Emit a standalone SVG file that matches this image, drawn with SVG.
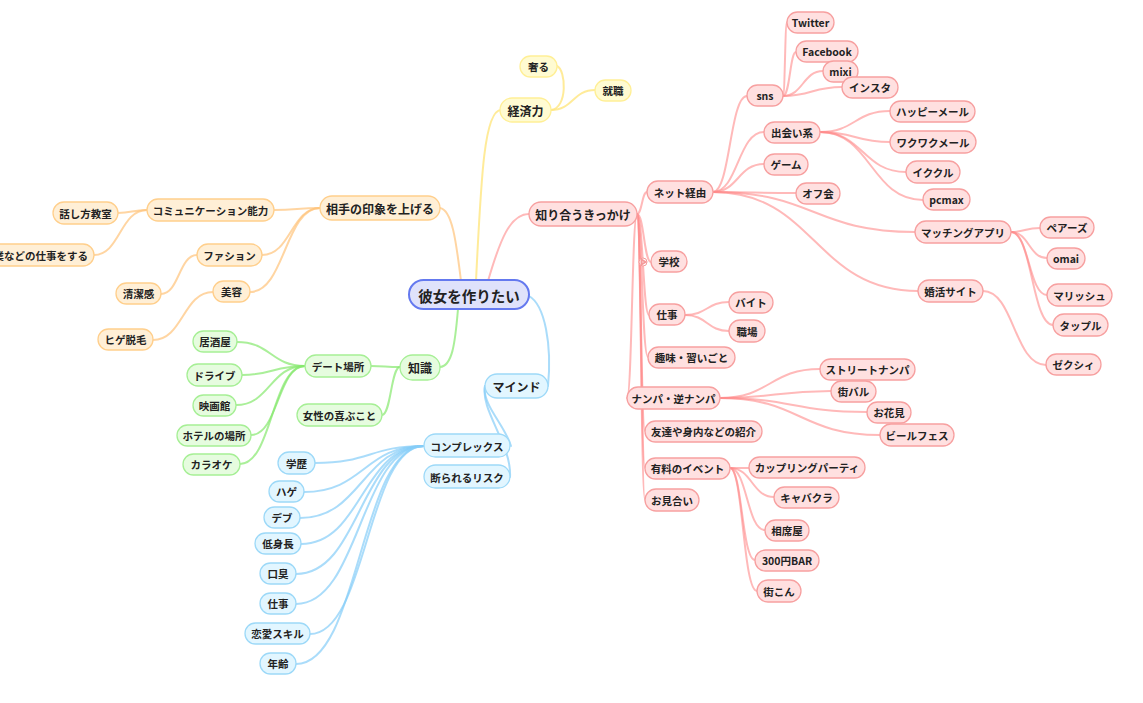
<svg xmlns="http://www.w3.org/2000/svg" width="1143" height="703" viewBox="0 0 1143 703">
<style>
text{font-family:"Noto Sans CJK JP","Noto Sans",sans-serif;font-weight:bold;fill:#222;text-anchor:middle;dominant-baseline:central;font-size:10.5px}
rect{stroke-width:1.3}
.c path{fill:none;stroke-width:2;stroke-linecap:round}
.cr path{stroke:#ff8a8a;stroke-opacity:.6}
.co path{stroke:#ffc37a;stroke-opacity:.7}
.cy path{stroke:#ffe680;stroke-opacity:.8}
.cg path{stroke:#86e86e;stroke-opacity:.7}
.cb path{stroke:#86cdf8;stroke-opacity:.7}
.r rect{fill:#ffe0e0;stroke:#f7a0a0}
.o rect{fill:#ffefd6;stroke:#ffcf8c}
.y rect{fill:#fffbd2;stroke:#ffef96}
.g rect{fill:#e6fcdf;stroke:#a6ef95}
.b rect{fill:#e2f6ff;stroke:#9dd9f8}
.l1 text{font-size:12px}
.root rect{fill:#dfe2fb;stroke:#6479ef;stroke-width:2}
.root text{font-size:14.5px}
</style>
<rect width="1143" height="703" fill="#fff"/>
<g id="connectors" class="c">
<g class="co">
<path d="M461 281 C456 240 452 210 440 208"/>
<path d="M320 208 C297 208 297 210 274 210"/>
<path d="M320 208 C291 208 291 255 262 255"/>
<path d="M320 208 C285 208 285 292 250 292"/>
<path d="M147 210 C132 210 132 213 118 213"/>
<path d="M147 210 C120 210 120 255 94 255"/>
<path d="M197 255 C179 255 179 294 161 294"/>
<path d="M213 292 C183 292 183 340 153 340"/>
</g>
<g class="cy">
<path d="M476 281 C481 180 484 110 501 110"/>
<path d="M551 110 C568 108 566 70 557 66"/>
<path d="M551 110 C573 110 573 90 595 90"/>
</g>
<g class="cg">
<path d="M458 309 C455 345 452 366 440 367"/>
<path d="M400 367 C385 367 385 366 371 366"/>
<path d="M400 367 C391 367 391 415 382 415"/>
<path d="M305 366 C271 366 271 342 237 342"/>
<path d="M305 366 C273 366 273 375 242 375"/>
<path d="M305 366 C270 366 270 405 236 405"/>
<path d="M305 366 C278 366 278 435 251 435"/>
<path d="M305 366 C272 366 272 464 240 464"/>
</g>
<g class="cb">
<path d="M529 296 C545 305 552 345 548 386"/>
<path d="M485 386 C482 405 505 425 511 446"/>
<path d="M485 386 C480 410 512 445 510 477"/>
<path d="M424 446 C370 446 370 463 315 463"/>
<path d="M424 446 C364 446 364 492 304 492"/>
<path d="M424 446 C362 446 362 518 300 518"/>
<path d="M424 446 C362 446 362 544 301 544"/>
<path d="M424 446 C360 446 360 574 296 574"/>
<path d="M424 446 C360 446 360 604 296 604"/>
<path d="M424 446 C367 446 367 634 310 634"/>
<path d="M424 446 C360 446 360 664 296 664"/>
</g>
<g class="cr">
<path d="M488 281 C500 240 510 214 529 214"/>
<path d="M637 214 C642 214 642 192 647 192"/>
<path d="M637 214 C644 214 644 262 651 262"/>
<path d="M637 214 C643 214 643 315 649 315"/>
<path d="M637 214 C642 214 642 357 648 357"/>
<path d="M637 214 C632 214 632 398 627 398"/>
<path d="M637 214 C641 214 641 431 645 431"/>
<path d="M637 214 C641 214 641 468 645 468"/>
<path d="M637 214 C641 214 641 500 645 500"/>
<path d="M713 192 C730 192 730 96 747 96"/>
<path d="M713 192 C738 192 738 132 764 132"/>
<path d="M713 192 C738 192 738 164 764 164"/>
<path d="M713 192 C754 192 754 193 796 193"/>
<path d="M713 192 C814 192 814 232 915 232"/>
<path d="M713 192 C815 192 815 291 918 291"/>
<path d="M783 96 C785 96 785 22 787 22"/>
<path d="M783 96 C790 96 790 52 796 52"/>
<path d="M783 96 C803 96 803 71 823 71"/>
<path d="M783 96 C812 96 812 87 842 87"/>
<path d="M820 132 C855 132 855 111 890 111"/>
<path d="M820 132 C855 132 855 142 890 142"/>
<path d="M820 132 C863 132 863 172 906 172"/>
<path d="M820 132 C871 132 871 200 923 200"/>
<path d="M1011 232 C1025 232 1025 228 1040 228"/>
<path d="M1011 232 C1029 232 1029 258 1047 258"/>
<path d="M1011 232 C1029 232 1029 295 1047 295"/>
<path d="M1011 232 C1032 232 1032 325 1053 325"/>
<path d="M983 291 C1014 291 1014 365 1046 365"/>
<path d="M685 315 C707 315 707 302 729 302"/>
<path d="M685 315 C707 315 707 331 729 331"/>
<path d="M720 398 C770 398 770 369 820 369"/>
<path d="M720 398 C775 398 775 391 831 391"/>
<path d="M720 398 C793 398 793 412 867 412"/>
<path d="M720 398 C800 398 800 435 880 435"/>
<path d="M730 468 C740 468 740 468 749 468"/>
<path d="M730 468 C752 468 752 497 774 497"/>
<path d="M730 468 C747 468 747 530 765 530"/>
<path d="M730 468 C742 468 742 560 755 560"/>
<path d="M730 468 C743 468 743 591 757 591"/>
</g>
<g id="collapse-indicator">
<circle cx="643" cy="262" r="4" fill="#fff" stroke="#f59a9a" stroke-width="1"/>
<path d="M641.5 259.5 L645.5 262 L641.5 264.5 Z" fill="none" stroke="#f59a9a" stroke-width="0.8"/>
</g>
</g>
<g id="root" class="root"><rect x="409" y="280" width="120" height="29" rx="14.5"/><text x="469" y="295">彼女を作りたい</text></g>
<g id="n-keizai" class="y l1"><rect x="500" y="98" width="51" height="24" rx="12"/><text x="525.5" y="110.5">経済力</text></g>
<g id="n-ogoru" class="y"><rect x="520" y="56" width="37" height="21" rx="10.5"/><text x="538.5" y="66.5">奢る</text></g>
<g id="n-shushoku" class="y"><rect x="595" y="80" width="36" height="21" rx="10.5"/><text x="613" y="90.5">就職</text></g>
<g id="n-inshou" class="o l1"><rect x="320" y="196" width="120" height="24" rx="12"/><text x="380" y="208.5">相手の印象を上げる</text></g>
<g id="n-comm" class="o"><rect x="147" y="199" width="127" height="22" rx="11"/><text x="210.5" y="210.5">コミュニケーション能力</text></g>
<g id="n-hanashi" class="o"><rect x="53" y="202" width="65" height="22" rx="11"/><text x="85.5" y="213.5">話し方教室</text></g>
<g id="n-shigoto-suru" class="o"><rect x="-60" y="244" width="154" height="22" rx="11"/><text x="88" y="255.5" style="text-anchor:end">業などの仕事をする</text></g>
<g id="n-fashion" class="o"><rect x="197" y="244" width="65" height="22" rx="11"/><text x="229.5" y="255.5">ファション</text></g>
<g id="n-seiketsu" class="o"><rect x="116" y="283" width="45" height="21" rx="10.5"/><text x="138.5" y="293.5">清潔感</text></g>
<g id="n-biyou" class="o"><rect x="213" y="281" width="37" height="21" rx="10.5"/><text x="231.5" y="291.5">美容</text></g>
<g id="n-hige" class="o"><rect x="98" y="329" width="55" height="21" rx="10.5"/><text x="125.5" y="339.5">ヒゲ脱毛</text></g>
<g id="n-chishiki" class="g l1"><rect x="400" y="355" width="40" height="25" rx="12.5"/><text x="420" y="367.5">知識</text></g>
<g id="n-date" class="g"><rect x="305" y="355" width="66" height="22" rx="11"/><text x="338" y="366.5">デート場所</text></g>
<g id="n-josei" class="g"><rect x="297" y="404" width="85" height="22" rx="11"/><text x="339.5" y="415.5">女性の喜ぶこと</text></g>
<g id="n-izakaya" class="g"><rect x="193" y="331" width="44" height="21" rx="10.5"/><text x="215" y="341.5">居酒屋</text></g>
<g id="n-drive" class="g"><rect x="187" y="364" width="55" height="22" rx="11"/><text x="214.5" y="375.5">ドライブ</text></g>
<g id="n-eiga" class="g"><rect x="193" y="395" width="43" height="21" rx="10.5"/><text x="214.5" y="405.5">映画館</text></g>
<g id="n-hotel" class="g"><rect x="177" y="425" width="74" height="21" rx="10.5"/><text x="214" y="435.5">ホテルの場所</text></g>
<g id="n-karaoke" class="g"><rect x="183" y="454" width="57" height="21" rx="10.5"/><text x="211.5" y="464.5">カラオケ</text></g>
<g id="n-mind" class="b l1"><rect x="485" y="374" width="63" height="24" rx="12"/><text x="516.5" y="386.5">マインド</text></g>
<g id="n-complex" class="b"><rect x="424" y="434" width="86" height="23" rx="11.5"/><text x="467" y="446">コンプレックス</text></g>
<g id="n-kotowarareru" class="b"><rect x="424" y="465" width="86" height="23" rx="11.5"/><text x="467" y="477">断られるリスク</text></g>
<g id="n-gakureki" class="b"><rect x="278" y="452" width="37" height="22" rx="11"/><text x="296.5" y="463.5">学歴</text></g>
<g id="n-hage" class="b"><rect x="269" y="481" width="35" height="21" rx="10.5"/><text x="286.5" y="491.5">ハゲ</text></g>
<g id="n-debu" class="b"><rect x="264" y="507" width="36" height="21" rx="10.5"/><text x="282" y="517.5">デブ</text></g>
<g id="n-teishinchou" class="b"><rect x="255" y="533" width="46" height="21" rx="10.5"/><text x="278" y="543.5">低身長</text></g>
<g id="n-koushuu" class="b"><rect x="260" y="563" width="36" height="21" rx="10.5"/><text x="278" y="573.5">口臭</text></g>
<g id="n-shigoto-b" class="b"><rect x="260" y="593" width="36" height="21" rx="10.5"/><text x="278" y="603.5">仕事</text></g>
<g id="n-renai" class="b"><rect x="245" y="623" width="65" height="21" rx="10.5"/><text x="277.5" y="633.5">恋愛スキル</text></g>
<g id="n-nenrei" class="b"><rect x="260" y="653" width="36" height="21" rx="10.5"/><text x="278" y="663.5">年齢</text></g>
<g id="n-kikkake" class="r l1"><rect x="529" y="202" width="108" height="24" rx="12"/><text x="583" y="214.5">知り合うきっかけ</text></g>
<g id="n-net" class="r"><rect x="647" y="181" width="66" height="22" rx="11"/><text x="680" y="192.5">ネット経由</text></g>
<g id="n-gakkou" class="r"><rect x="651" y="251" width="36" height="21" rx="10.5"/><text x="669" y="261.5">学校</text></g>
<g id="n-shigoto-r" class="r"><rect x="649" y="304" width="36" height="21" rx="10.5"/><text x="667" y="314.5">仕事</text></g>
<g id="n-shumi" class="r"><rect x="648" y="347" width="87" height="21" rx="10.5"/><text x="691.5" y="357.5">趣味・習いごと</text></g>
<g id="n-nanpa" class="r"><rect x="627" y="387" width="93" height="22" rx="11"/><text x="673.5" y="398.5">ナンパ・逆ナンパ</text></g>
<g id="n-shoukai" class="r"><rect x="645" y="421" width="117" height="21" rx="10.5"/><text x="703.5" y="431.5">友達や身内などの紹介</text></g>
<g id="n-yuryou" class="r"><rect x="645" y="458" width="85" height="21" rx="10.5"/><text x="687.5" y="468.5">有料のイベント</text></g>
<g id="n-omiai" class="r"><rect x="645" y="489" width="54" height="22" rx="11"/><text x="672" y="500.5">お見合い</text></g>
<g id="n-sns" class="r"><rect x="747" y="85" width="36" height="21" rx="10.5"/><text x="765" y="95.5">sns</text></g>
<g id="n-twitter" class="r"><rect x="787" y="12" width="47" height="21" rx="10.5"/><text x="810.5" y="22.5">Twitter</text></g>
<g id="n-facebook" class="r"><rect x="796" y="41" width="62" height="21" rx="10.5"/><text x="827" y="51.5">Facebook</text></g>
<g id="n-mixi" class="r"><rect x="823" y="61" width="35" height="21" rx="10.5"/><text x="840.5" y="71.5">mixi</text></g>
<g id="n-insta" class="r"><rect x="842" y="77" width="56" height="21" rx="10.5"/><text x="870" y="87.5">インスタ</text></g>
<g id="n-deai" class="r"><rect x="764" y="122" width="56" height="21" rx="10.5"/><text x="792" y="132.5">出会い系</text></g>
<g id="n-happy" class="r"><rect x="890" y="101" width="85" height="21" rx="10.5"/><text x="932.5" y="111.5">ハッピーメール</text></g>
<g id="n-wakuwaku" class="r"><rect x="890" y="131" width="86" height="22" rx="11"/><text x="933" y="142.5">ワクワクメール</text></g>
<g id="n-ikukuru" class="r"><rect x="906" y="161" width="54" height="22" rx="11"/><text x="933" y="172.5">イククル</text></g>
<g id="n-pcmax" class="r"><rect x="923" y="189" width="47" height="21" rx="10.5"/><text x="946.5" y="199.5">pcmax</text></g>
<g id="n-game" class="r"><rect x="764" y="154" width="44" height="21" rx="10.5"/><text x="786" y="164.5">ゲーム</text></g>
<g id="n-offkai" class="r"><rect x="796" y="183" width="44" height="21" rx="10.5"/><text x="818" y="193.5">オフ会</text></g>
<g id="n-matching" class="r"><rect x="915" y="221" width="96" height="22" rx="11"/><text x="963" y="232.5">マッチングアプリ</text></g>
<g id="n-pairs" class="r"><rect x="1040" y="217" width="54" height="21" rx="10.5"/><text x="1067" y="227.5">ペアーズ</text></g>
<g id="n-omai" class="r"><rect x="1047" y="248" width="38" height="21" rx="10.5"/><text x="1066" y="258.5">omai</text></g>
<g id="n-marrish" class="r"><rect x="1047" y="284" width="65" height="22" rx="11"/><text x="1079.5" y="295.5">マリッシュ</text></g>
<g id="n-tapple" class="r"><rect x="1053" y="314" width="55" height="22" rx="11"/><text x="1080.5" y="325.5">タップル</text></g>
<g id="n-konkatsu" class="r"><rect x="918" y="280" width="65" height="22" rx="11"/><text x="950.5" y="291.5">婚活サイト</text></g>
<g id="n-zexy" class="r"><rect x="1046" y="354" width="55" height="21" rx="10.5"/><text x="1073.5" y="364.5">ゼクシィ</text></g>
<g id="n-baito" class="r"><rect x="729" y="292" width="44" height="21" rx="10.5"/><text x="751" y="302.5">バイト</text></g>
<g id="n-shokuba" class="r"><rect x="729" y="320" width="36" height="22" rx="11"/><text x="747" y="331.5">職場</text></g>
<g id="n-street" class="r"><rect x="820" y="359" width="95" height="21" rx="10.5"/><text x="867.5" y="369.5">ストリートナンパ</text></g>
<g id="n-machibaru" class="r"><rect x="831" y="381" width="45" height="21" rx="10.5"/><text x="853.5" y="391.5">街バル</text></g>
<g id="n-ohanami" class="r"><rect x="867" y="402" width="44" height="21" rx="10.5"/><text x="889" y="412.5">お花見</text></g>
<g id="n-beer" class="r"><rect x="880" y="424" width="74" height="22" rx="11"/><text x="917" y="435.5">ビールフェス</text></g>
<g id="n-coupling" class="r"><rect x="749" y="457" width="116" height="21" rx="10.5"/><text x="807" y="467.5">カップリングパーティ</text></g>
<g id="n-kyaba" class="r"><rect x="774" y="487" width="65" height="21" rx="10.5"/><text x="806.5" y="497.5">キャバクラ</text></g>
<g id="n-aiseki" class="r"><rect x="765" y="520" width="44" height="21" rx="10.5"/><text x="787" y="530.5">相席屋</text></g>
<g id="n-300bar" class="r"><rect x="755" y="550" width="64" height="21" rx="10.5"/><text x="787" y="560.5">300円BAR</text></g>
<g id="n-machikon" class="r"><rect x="757" y="580" width="44" height="22" rx="11"/><text x="779" y="591.5">街こん</text></g>
</svg>
